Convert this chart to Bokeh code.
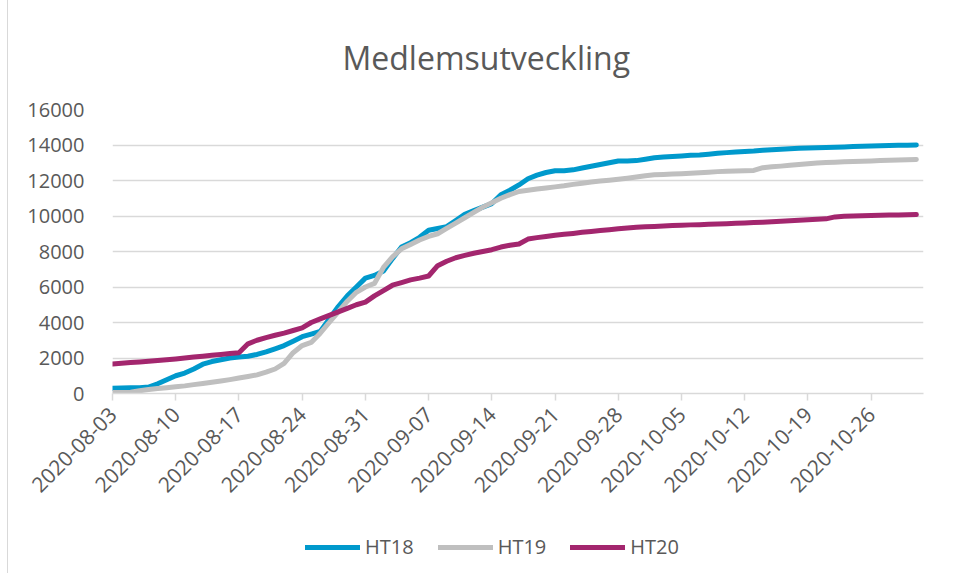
import datetime as dt
from math import pi

from bokeh.plotting import figure
from bokeh.layouts import column
from bokeh.models import (Range1d, FixedTicker, DatetimeTickFormatter, Legend,
                          LegendItem, ColumnDataSource)
from bokeh.embed import file_html
from bokeh.resources import INLINE

# ---------------- data ----------------
START = dt.datetime(2020, 8, 3)

HT18 = [300, 310, 320, 330, 360, 550, 780, 1000, 1150, 1380,
        1650, 1800, 1900, 2000, 2050, 2100, 2200, 2350, 2520, 2700,
        2950, 3200, 3350, 3500, 4200, 4900, 5500, 6000, 6500, 6650,
        6900, 7600, 8250, 8500, 8800, 9200, 9300, 9400, 9750, 10100,
        10300, 10500, 10700, 11200, 11450, 11750, 12100, 12300, 12450, 12550,
        12550, 12600, 12700, 12800, 12900, 13000, 13100, 13100, 13120, 13200,
        13280, 13320, 13350, 13380, 13420, 13440, 13480, 13530, 13570, 13610,
        13640, 13660, 13700, 13730, 13760, 13790, 13810, 13830, 13840, 13860,
        13880, 13890, 13910, 13930, 13950, 13960, 13970, 13980, 13990, 14000]

HT19 = [50, 60, 70, 150, 220, 280, 330, 380, 430, 500,
        560, 630, 700, 780, 870, 960, 1050, 1200, 1380, 1700,
        2300, 2700, 2880, 3400, 4000, 4600, 5200, 5700, 6000, 6200,
        7100, 7700, 8150, 8400, 8650, 8850, 9000, 9300, 9600, 9900,
        10200, 10500, 10750, 11000, 11200, 11380, 11450, 11520, 11580, 11640,
        11700, 11780, 11850, 11920, 11970, 12020, 12070, 12130, 12200, 12270,
        12320, 12340, 12360, 12380, 12410, 12440, 12470, 12500, 12520, 12540,
        12550, 12570, 12720, 12770, 12810, 12860, 12900, 12940, 12980, 13010,
        13030, 13050, 13070, 13090, 13100, 13120, 13140, 13150, 13170, 13180]

HT20 = [1660, 1700, 1740, 1780, 1820, 1860, 1900, 1950, 2000, 2050,
        2100, 2150, 2200, 2250, 2300, 2800, 3000, 3150, 3280, 3400,
        3550, 3700, 4000, 4200, 4400, 4600, 4800, 5000, 5150, 5500,
        5800, 6100, 6250, 6400, 6500, 6620, 7200, 7450, 7650, 7780,
        7900, 8000, 8100, 8250, 8350, 8420, 8700, 8780, 8850, 8920,
        8970, 9020, 9080, 9130, 9180, 9230, 9280, 9320, 9360, 9390,
        9410, 9430, 9460, 9480, 9500, 9510, 9530, 9550, 9570, 9590,
        9610, 9630, 9650, 9680, 9700, 9730, 9760, 9790, 9810, 9840,
        9950, 9980, 10000, 10020, 10030, 10040, 10050, 10060, 10070, 10080]

SERIES_NAMES = ["HT18", "HT19", "HT20"]
SERIES_COLORS = ["#0099CC", "#BFBFBF", "#A3266E"]

TICK_LABELS = ["2020-08-03", "2020-08-10", "2020-08-17", "2020-08-24",
               "2020-08-31", "2020-09-07", "2020-09-14", "2020-09-21",
               "2020-09-28", "2020-10-05", "2020-10-12", "2020-10-19",
               "2020-10-26"]
Y_TICKS = [0, 2000, 4000, 6000, 8000, 10000, 12000, 14000, 16000]

TITLE = "Medlemsutveckling"
FONT = "Open Sans"
TEXT_COLOR = "#595959"
GRID_COLOR = "#D9D9D9"

# ---------------- build ----------------
EPOCH = dt.datetime(1970, 1, 1)


def to_ms(d):
    return (d - EPOCH).total_seconds() * 1000.0


dates = [START + dt.timedelta(days=i) for i in range(len(HT18))]
source = ColumnDataSource(dict(date=dates, HT18=HT18, HT19=HT19, HT20=HT20))

x_end = dates[-1] + dt.timedelta(hours=19)

# main chart
p = figure(width=940, height=520, x_axis_type="datetime",
           output_backend="svg", toolbar_location=None,
           x_range=Range1d(START, x_end), y_range=Range1d(0, 16000),
           min_border_left=104, min_border_right=25,
           min_border_top=109, min_border_bottom=127)

p.outline_line_color = None
p.background_fill_color = "white"
p.border_fill_color = "white"

p.title.text = TITLE
p.title.align = "left"
p.title.offset = 230
p.title.standoff = 61
p.title.text_font = FONT
p.title.text_font_size = "32px"
p.title.text_font_style = "normal"
p.title.text_color = TEXT_COLOR

for name, color in zip(SERIES_NAMES, SERIES_COLORS):
    p.line("date", name, source=source, line_color=color, line_width=5,
           line_cap="round", line_join="round")

xa = p.xaxis[0]
xa.ticker = FixedTicker(ticks=[to_ms(dt.datetime.strptime(t, "%Y-%m-%d"))
                               for t in TICK_LABELS])
fmt = "%Y-%m-%d"
xa.formatter = DatetimeTickFormatter(days=fmt, months=fmt, years=fmt,
                                     hours=fmt, hourmin=fmt)
xa.major_label_orientation = pi / 4
xa.major_label_text_font = FONT
xa.major_label_text_font_size = "21px"
xa.major_label_text_color = TEXT_COLOR
xa.major_label_standoff = 10
xa.axis_line_color = GRID_COLOR
xa.axis_line_width = 1.5
xa.major_tick_line_color = GRID_COLOR
xa.major_tick_line_width = 1.5
xa.major_tick_out = 7
xa.major_tick_in = 0
xa.minor_tick_line_color = None

ya = p.yaxis[0]
ya.ticker = FixedTicker(ticks=Y_TICKS)
ya.major_label_text_font = FONT
ya.major_label_text_font_size = "20px"
ya.major_label_text_color = TEXT_COLOR
ya.major_label_standoff = 22
ya.axis_line_color = None
ya.major_tick_line_color = None
ya.minor_tick_line_color = None

p.xgrid.grid_line_color = None
p.ygrid.grid_line_color = GRID_COLOR
p.ygrid.grid_line_width = 1.5

# legend strip: same series, its view range keeps only the legend keys visible
lg = figure(width=940, height=53, output_backend="svg", toolbar_location=None,
            x_axis_location=None, y_axis_location=None,
            min_border=0, x_range=Range1d(0, 1), y_range=Range1d(0, 1))
lg.outline_line_color = None
lg.grid.grid_line_color = None
lg.background_fill_color = "white"
lg.border_fill_color = "white"

items = []
for name, color in zip(SERIES_NAMES, SERIES_COLORS):
    r = lg.line("date", name, source=source, line_color=color, line_width=5,
                line_cap="round")
    items.append(LegendItem(label=name, renderers=[r]))

legend = Legend(items=items, orientation="horizontal", location=(193, 13),
                glyph_width=55, glyph_height=24, label_height=24,
                label_standoff=5, spacing=24, padding=0, margin=0,
                border_line_color=None, background_fill_alpha=0,
                label_text_font=FONT, label_text_font_size="20px",
                label_text_color=TEXT_COLOR)
lg.add_layout(legend, "center")

layout = column(p, lg, spacing=0,
                styles={"margin-left": "7px",
                        "border-left": "1px solid #D9D9D9"})

open("out.html", "w").write(file_html(layout, INLINE))
